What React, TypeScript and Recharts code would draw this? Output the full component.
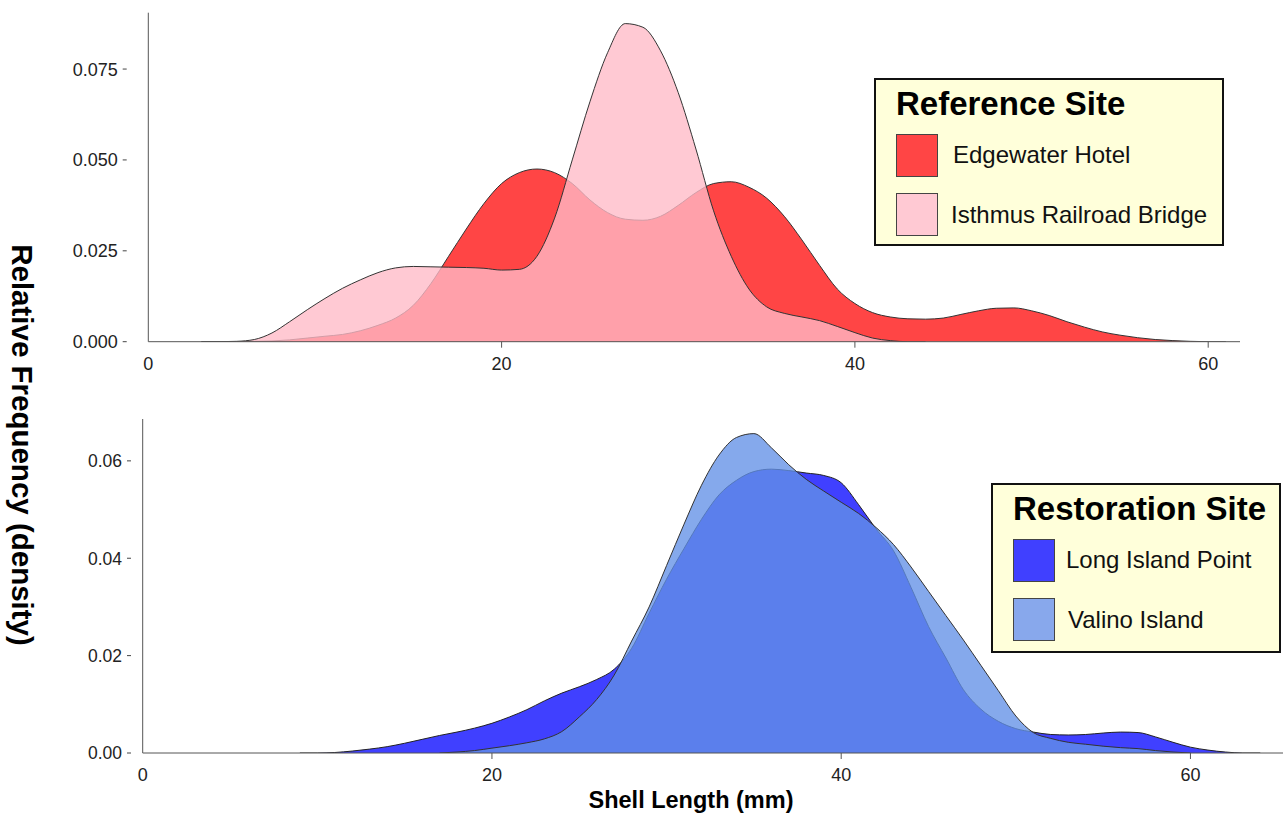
import React from 'react';
import { AreaChart, Area, XAxis, YAxis } from 'recharts';

const FONT = '"Liberation Sans", Arial, Helvetica, sans-serif';

// Reference sites (shell length in mm, density)
const refLengths = [
  3, 4, 5, 6, 7, 8, 9, 10, 11, 12, 13, 14, 15, 16, 17, 18, 19, 20, 21, 22,
  23, 24, 25, 26, 27, 28, 29, 30, 31, 32, 33, 34, 35, 36, 37, 38, 39, 40, 41, 42,
  43, 44, 45, 46, 47, 48, 49, 50, 51, 52, 53, 54, 55, 56, 57, 58, 59, 60, 61,
];
const edgewaterHotel = [
  0, 0, 0, 0.0001, 0.0002, 0.0005, 0.001, 0.0015, 0.002, 0.003, 0.0045, 0.0065, 0.01, 0.016, 0.0235, 0.031, 0.038, 0.0435, 0.0465, 0.0475,
  0.0465, 0.0435, 0.039, 0.0355, 0.0337, 0.0334, 0.0345, 0.0375, 0.041, 0.0435, 0.044, 0.0425, 0.0395, 0.0345, 0.028, 0.021, 0.0145, 0.0105, 0.008, 0.0068,
  0.0063, 0.0062, 0.0065, 0.0075, 0.0085, 0.0092, 0.0093, 0.0085, 0.0072, 0.0055, 0.004, 0.0027, 0.0018, 0.0011, 0.0006, 0.0003, 0.0001, 0, 0,
];
const isthmusRailroadBridge = [
  0, 0, 0.0001, 0.0006, 0.0024, 0.0055, 0.0088, 0.0119, 0.0147, 0.017, 0.019, 0.0203, 0.0207, 0.0206, 0.0205, 0.0204, 0.0202, 0.0197, 0.0199, 0.0235,
  0.034, 0.05, 0.066, 0.0795, 0.0875, 0.0865, 0.08, 0.0685, 0.053, 0.036, 0.0235, 0.0145, 0.0096, 0.0078, 0.0068, 0.0058, 0.0042, 0.0025, 0.001, 0.0003,
  0, 0, null, null, null, null, null, null, null, null, null, null, null, null, null, null, null, null, null,
];

// Restoration sites
const restLengths = [
  9, 10, 11, 12, 13, 14, 15, 16, 17, 18, 19, 20, 21, 22, 23, 24, 25, 26, 27, 28,
  29, 30, 31, 32, 33, 34, 35, 36, 37, 38, 39, 40, 41, 42, 43, 44, 45, 46, 47, 48,
  49, 50, 51, 52, 53, 54, 55, 56, 57, 58, 59, 60, 61, 62, 63, 64,
];
const longIslandPoint = [
  0, 0, 0.0001, 0.0004, 0.0008, 0.0013, 0.002, 0.0028, 0.0036, 0.0043, 0.0051, 0.0061, 0.0074, 0.0089, 0.0107, 0.0123, 0.0136, 0.0151, 0.0172, 0.0215,
  0.0287, 0.0357, 0.042, 0.048, 0.053, 0.056, 0.0578, 0.0583, 0.058, 0.0575, 0.057, 0.0555, 0.051, 0.046, 0.0415, 0.034, 0.026, 0.0195, 0.013, 0.009,
  0.0065, 0.005, 0.0043, 0.0038, 0.0037, 0.0038, 0.0041, 0.0043, 0.0042, 0.0033, 0.0022, 0.0012, 0.0006, 0.0002, 0, 0,
];
const valinoIsland = [
  null, null, null, null, null, null, null, null, 0, 0.0002, 0.0005, 0.001, 0.0015, 0.0021, 0.0029, 0.0044, 0.0074, 0.011, 0.016, 0.023,
  0.03, 0.0385, 0.047, 0.055, 0.0612, 0.0648, 0.0656, 0.0627, 0.0592, 0.0562, 0.0538, 0.0515, 0.0492, 0.0463, 0.0428, 0.0382, 0.0332, 0.0282, 0.0232, 0.018,
  0.0128, 0.0076, 0.0042, 0.003, 0.0022, 0.0018, 0.0014, 0.0011, 0.0009, 0.0005, 0.0002, 0, null, null, null, null,
];

const refTicksX = [0, 20, 40, 60];
const refTicksY = [0, 0.025, 0.05, 0.075];
const restTicksX = [0, 20, 40, 60];
const restTicksY = [0, 0.02, 0.04, 0.06];

const refData = refLengths.map((x, i) => ({
  x,
  edgewater: edgewaterHotel[i],
  isthmus: isthmusRailroadBridge[i],
}));
const restData = restLengths.map((x, i) => ({
  x,
  longIsland: longIslandPoint[i],
  valino: valinoIsland[i],
}));

const XTick = ({ x, y, payload }: any) => (
  <g>
    {payload.value !== 0 && <line x1={x} x2={x} y1={y} y2={y + 6} stroke="#555" />}
    <text x={x} y={y + 28} textAnchor="middle" fontSize={18} fill="#222" fontFamily={FONT}>
      {payload.value}
    </text>
  </g>
);

const makeYTick = (gap: number, digits: number, fontSize: number) => ({ x, y, payload }: any) => (
  <g>
    <line x1={x - gap - 4} x2={x - gap} y1={y} y2={y} stroke="#444" />
    <text
      x={x - gap - 9}
      y={y + fontSize * 0.36}
      textAnchor="end"
      fontSize={fontSize}
      fill="#222"
      fontFamily={FONT}
    >
      {payload.value.toFixed(digits)}
    </text>
  </g>
);

const RefYTick = makeYTick(21.6, 3, 18);
const RestYTick = makeYTick(11.7, 2, 17.5);

const LegendBox = ({ left, top, width, height, title, items }: any) => (
  <div
    style={{
      position: 'absolute',
      left,
      top,
      width,
      height,
      boxSizing: 'border-box',
      border: '2px solid #111',
      background: '#FFFFDA',
      fontFamily: FONT,
    }}
  >
    <div style={{ position: 'absolute', left: 20, top: 7, fontSize: 33, lineHeight: '33px', fontWeight: 700, color: '#000', whiteSpace: 'nowrap' }}>
      {title}
    </div>
    {items.map((it: any, i: number) => (
      <React.Fragment key={it.label}>
        <div
          style={{
            position: 'absolute',
            left: 20,
            top: 54 + i * 59,
            width: 42,
            height: 43,
            boxSizing: 'border-box',
            border: '1.5px solid #444',
            background: it.color,
          }}
        />
        <div style={{ position: 'absolute', left: it.textLeft, top: 63 + i * 60, fontSize: 24, lineHeight: '24px', color: '#111', whiteSpace: 'nowrap' }}>
          {it.label}
        </div>
      </React.Fragment>
    ))}
  </div>
);

export default function App() {
  return (
    <div style={{ position: 'absolute', left: 0, top: 0, width: 1287, height: 813, background: '#fff', fontFamily: FONT }}>
      <div style={{ position: 'absolute', left: 0, top: 0 }}>
        <AreaChart width={1287} height={400} data={refData} margin={{ top: 12.7, right: 47, bottom: 18.3, left: 0 }}>
          <XAxis
            dataKey="x"
            type="number"
            domain={[0, 61.8]}
            ticks={refTicksX}
            allowDataOverflow
            height={40}
            axisLine={{ stroke: '#555' }}
            tickLine={false}
            tickSize={0}
            tickMargin={0}
            tick={<XTick />}
          />
          <YAxis
            type="number"
            domain={[0, 0.0905]}
            ticks={refTicksY}
            allowDataOverflow
            width={148.3}
            axisLine={{ stroke: '#555' }}
            tickLine={false}
            tickSize={0}
            tickMargin={0}
            tick={<RefYTick />}
          />
          <Area
            type="monotone"
            dataKey="edgewater"
            fill="#FF4545"
            fillOpacity={1}
            stroke="#333"
            strokeWidth={1}
            isAnimationActive={false}
          />
          <Area
            type="monotone"
            dataKey="isthmus"
            fill="#FFBAC6"
            fillOpacity={0.78}
            stroke="#333"
            strokeWidth={1}
            isAnimationActive={false}
          />
        </AreaChart>
      </div>

      <div style={{ position: 'absolute', left: 0, top: 400 }}>
        <AreaChart width={1287} height={413} data={restData} margin={{ top: 19, right: 4, bottom: 20, left: 0 }}>
          <XAxis
            dataKey="x"
            type="number"
            domain={[0, 65.3]}
            ticks={restTicksX}
            allowDataOverflow
            height={40}
            axisLine={{ stroke: '#555' }}
            tickLine={false}
            tickSize={0}
            tickMargin={0}
            tick={<XTick />}
          />
          <YAxis
            type="number"
            domain={[0, 0.0686]}
            ticks={restTicksY}
            allowDataOverflow
            width={142.7}
            axisLine={{ stroke: '#555' }}
            tickLine={false}
            tickSize={0}
            tickMargin={0}
            tick={<RestYTick />}
          />
          <Area
            type="monotone"
            dataKey="longIsland"
            fill="#4040FF"
            fillOpacity={1}
            stroke="#222"
            strokeWidth={1}
            isAnimationActive={false}
          />
          <Area
            type="monotone"
            dataKey="valino"
            fill="#6391E7"
            fillOpacity={0.78}
            stroke="#333"
            strokeWidth={1}
            isAnimationActive={false}
          />
        </AreaChart>
      </div>

      <LegendBox
        left={874}
        top={78}
        width={350}
        height={168}
        title="Reference Site"
        items={[
          { label: 'Edgewater Hotel', color: '#FF4545', textLeft: 77 },
          { label: 'Isthmus Railroad Bridge', color: '#FFC9D3', textLeft: 75 },
        ]}
      />
      <LegendBox
        left={991}
        top={483}
        width={290}
        height={170}
        title="Restoration Site"
        items={[
          { label: 'Long Island Point', color: '#4040FF', textLeft: 73 },
          { label: 'Valino Island', color: '#88A8EC', textLeft: 75 },
        ]}
      />

      <div
        style={{
          position: 'absolute',
          left: 22,
          top: 445,
          transform: 'translate(-50%, -50%) rotate(90deg)',
          fontSize: 29.5,
          lineHeight: '30px',
          fontWeight: 700,
          color: '#000',
          whiteSpace: 'nowrap',
        }}
      >
        Relative Frequency (density)
      </div>
      <div
        style={{
          position: 'absolute',
          left: 691,
          top: 789,
          transform: 'translateX(-50%)',
          fontSize: 23.5,
          lineHeight: '23px',
          fontWeight: 700,
          color: '#000',
          whiteSpace: 'nowrap',
        }}
      >
        Shell Length (mm)
      </div>
    </div>
  );
}
